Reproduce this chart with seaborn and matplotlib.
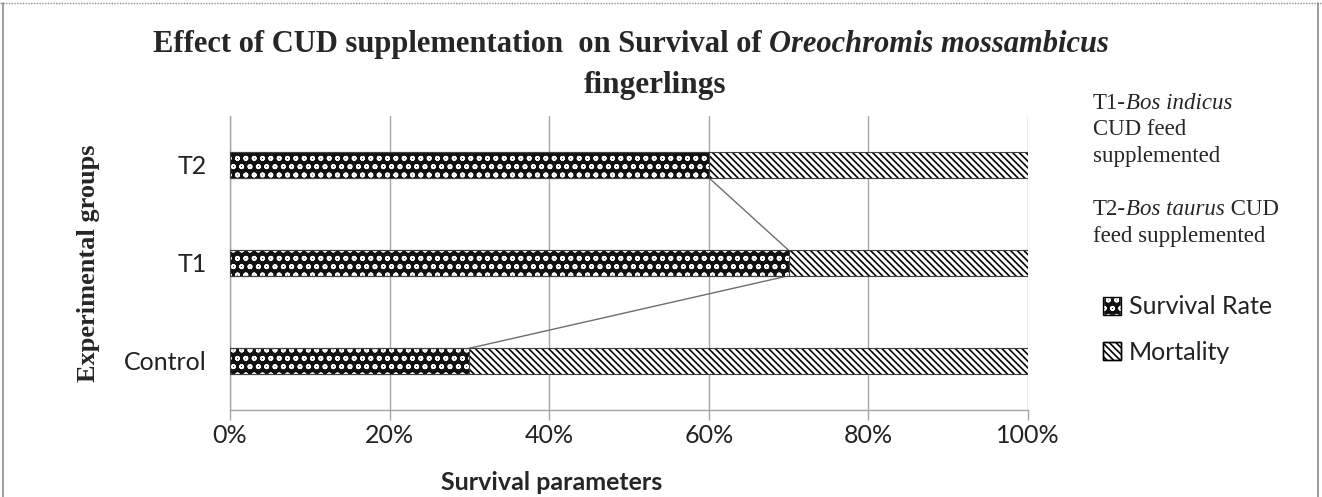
import numpy as np
import pandas as pd
import matplotlib
matplotlib.use("Agg")
import matplotlib.pyplot as plt
import matplotlib.patches as mpatches
from matplotlib.lines import Line2D
from matplotlib.ticker import PercentFormatter
import seaborn as sns

# -----------------------------
# Data
# -----------------------------
groups = ["T2", "T1", "Control"]
survival = [60, 70, 30]
mortality = [40, 30, 70]

df = pd.DataFrame({"Group": groups, "Survival Rate": survival, "Mortality": mortality})
df["Total"] = df["Survival Rate"] + df["Mortality"]

sns.set_style("white")
plt.rcParams["hatch.linewidth"] = 1.2

W, H = 1322, 497
fig = plt.figure(figsize=(W / 100, H / 100), dpi=100)
ax = fig.add_axes([230 / W, 1 - 410 / H, 798 / W, 294 / H])

grey = "#a6a6a6"
bar_w = 0.26
surv_face, surv_hatch = "#111111", "oo"
mort_hatch = "\\" * 5

# mortality drawn as the full bar, survival painted on top of it
sns.barplot(data=df, x="Total", y="Group", order=groups, orient="h",
            color="white", width=bar_w, ax=ax, zorder=2)
sns.barplot(data=df, x="Survival Rate", y="Group", order=groups, orient="h",
            color=surv_face, width=bar_w, ax=ax, zorder=3)
n = len(groups)
for i, p in enumerate(ax.patches):
    if i < n:
        p.set_edgecolor("black")
        p.set_hatch(mort_hatch)
    else:
        p.set_facecolor(surv_face)
        p.set_edgecolor("white")
        p.set_hatch(surv_hatch)
    p.set_linewidth(0.5)
# thin outline round every bar
sns.barplot(data=df, x="Total", y="Group", order=groups, orient="h",
            fill=False, color="#404040", width=bar_w, ax=ax, zorder=4,
            linewidth=0.8)
sns.barplot(data=df, x="Survival Rate", y="Group", order=groups, orient="h",
            fill=False, color="#404040", width=bar_w, ax=ax, zorder=4,
            linewidth=0.8)

# series lines between the survival edges of neighbouring bars
for i in range(n - 1):
    ax.plot([survival[i], survival[i + 1]],
            [i + bar_w / 2, i + 1 - bar_w / 2],
            color="#6e6e6e", lw=1.0, zorder=1)

ax.set_xlim(0, 100)
ax.set_ylim(n - 0.5, -0.5)
ax.set_xticks(np.arange(0, 101, 20))
ax.xaxis.set_major_formatter(PercentFormatter(decimals=0))
ax.grid(axis="x", color=grey, lw=1.0, zorder=0)
ax.set_axisbelow(True)
for s in ["top", "right"]:
    ax.spines[s].set_visible(False)
for s in ["left", "bottom"]:
    ax.spines[s].set_color(grey)
    ax.spines[s].set_linewidth(1.0)

ax.tick_params(axis="x", bottom=True, length=7, color=grey, width=1.0, pad=3,
               labelsize=18)
ax.tick_params(axis="y", left=False, pad=13, labelsize=18)
for lab in ax.get_xticklabels() + ax.get_yticklabels():
    lab.set_fontfamily("Lato")
    lab.set_color("#222222")

ax.set_xlabel("")
ax.set_ylabel("")
fig.text(552 / W, 1 - 483 / H, "Survival parameters", ha="center", va="center",
         fontfamily="Lato", fontweight="bold", fontsize=18)
fig.text(88 / W, 1 - 263 / H, "Experimental groups", rotation=90, ha="center",
         va="center", fontfamily="Liberation Serif", fontweight="bold",
         fontsize=19)


def mixed_line(x, y, parts, size, weight="normal"):
    # parts: list of (text, style); pieces chained left to right
    prev = None
    for txt, style in parts:
        kw = dict(fontfamily="Liberation Serif", fontsize=size,
                  fontweight=weight, fontstyle=style)
        if prev is None:
            prev = fig.text(x, y, txt, ha="left", va="bottom", **kw)
        else:
            prev = fig.add_artist(plt.Annotation(txt, xy=(1, 0), xycoords=prev,
                                                 ha="left", va="bottom", **kw))
    return prev


# title
mixed_line(153 / W, 1 - 59 / H,
           [("Effect of CUD supplementation  on Survival of ", "normal"),
            ("Oreochromis mossambicus", "italic")], 22, weight="bold")
fig.text(655 / W, 1 - 86 / H, "fingerlings", ha="center", va="center",
         fontfamily="Liberation Serif", fontweight="bold", fontsize=22.5)

# notes on the right
nx = 1093 / W
note_size = 16.5
rows = [
    (102, [("T1-", "normal"), ("Bos indicus", "italic")]),
    (128, [("CUD feed", "normal")]),
    (155, [("supplemented", "normal")]),
    (208, [("T2-", "normal"), ("Bos taurus", "italic"), (" CUD", "normal")]),
    (235, [("feed supplemented", "normal")]),
]
for yc, parts in rows:
    mixed_line(nx, 1 - (yc + 12) / H, parts, note_size)

# legend: hatched square plus a black outline on top
outline = mpatches.Patch(fill=False, edgecolor="black", linewidth=1.0)
handles = [
    (mpatches.Patch(facecolor=surv_face, edgecolor="white", hatch=surv_hatch), outline),
    (mpatches.Patch(facecolor="white", edgecolor="black", hatch=mort_hatch), outline),
]
leg = fig.legend(handles=handles, labels=["Survival Rate", "Mortality"],
                 loc="upper left", bbox_to_anchor=(1080 / W, 1 - 273 / H),
                 frameon=False, prop={"family": "Lato", "size": 18},
                 handlelength=0.75, handleheight=0.75, handletextpad=0.3,
                 labelspacing=0.9)
for t in leg.get_texts():
    t.set_color("#222222")

# outer chart frame
fig.add_artist(Line2D([3 / W, 3 / W], [0, 1 - 3 / H], color="#8c8c8c", lw=1.2))
fig.add_artist(Line2D([1318 / W, 1318 / W], [0, 1 - 3 / H], color="#8c8c8c", lw=1.2))
fig.add_artist(Line2D([0, 1], [1 - 2.5 / H, 1 - 2.5 / H], color="#8c8c8c", lw=1.0,
                      ls=(0, (1, 1))))

fig.savefig("out.png", dpi=100)
